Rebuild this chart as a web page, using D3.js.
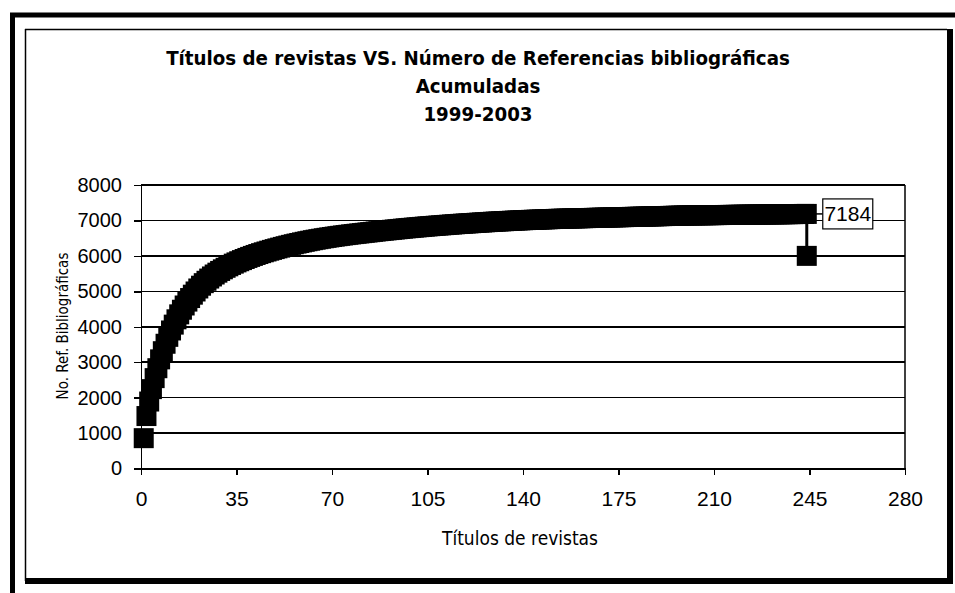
<html>
<head>
<meta charset="utf-8">
<script src="https://cdn.jsdelivr.net/npm/d3@7/dist/d3.min.js"></script>
<style type="text/css">
body {
    margin: 0;
    background: #fff;
}
svg {
    font-family: "DejaVu Sans Condensed", "DejaVu Sans", sans-serif;
}
.frame line {
    stroke: #000;
}
.axis path, .axis line {
    stroke: #000;
    stroke-width: 1.5px;
    shape-rendering: crispEdges;
}
.axis text {
    fill: #000;
}
.y.axis text {
    font-family: "Liberation Sans", Arial, sans-serif;
    font-size: 20px;
}
.x.axis text {
    font-size: 21px;
}
.grid line {
    stroke: #000;
    stroke-width: 1.5px;
    shape-rendering: crispEdges;
}
.title {
    font-weight: bold;
    font-size: 20.3px;
}
.marker {
    fill: #000;
}
.label-box {
    fill: #fff;
    stroke: #000;
    stroke-width: 1.2px;
}
</style>
</head>
<body>
<svg id="chart" width="955" height="593"></svg>
<script>
// titulo del grafico, una linea por elemento
var titleLines = [
    "Títulos de revistas VS. Número de Referencias bibliográficas",
    "Acumuladas",
    "1999-2003"
];
var xLabel = "Títulos de revistas";
var yLabel = "No. Ref. Bibliográficas";

var xTicks = [0, 35, 70, 105, 140, 175, 210, 245, 280];
var yTicks = [0, 1000, 2000, 3000, 4000, 5000, 6000, 7000, 8000];

// referencias acumuladas por titulo (titulo 1 .. 244)
var acumuladas = [
    856, 1480, 1890, 2240, 2550, 2830, 3080, 3310, 3520, 3715,
    3895, 4060, 4210, 4350, 4480, 4600, 4710, 4810, 4905, 4995,
    5080, 5158, 5230, 5297, 5360, 5419, 5474, 5526, 5575, 5621,
    5664, 5705, 5744, 5781, 5816, 5849, 5881, 5912, 5942, 5971,
    5999, 6026, 6052, 6077, 6101, 6124, 6147, 6169, 6191, 6212,
    6233, 6253, 6273, 6292, 6311, 6329, 6347, 6364, 6381, 6397,
    6413, 6428, 6443, 6457, 6471, 6484, 6497, 6509, 6521, 6533,
    6544, 6555, 6566, 6576, 6586, 6596, 6606, 6615, 6624, 6633,
    6642, 6651, 6660, 6669, 6678, 6687, 6696, 6704, 6712, 6720,
    6728, 6736, 6744, 6752, 6760, 6768, 6776, 6783, 6790, 6797,
    6804, 6811, 6818, 6825, 6832, 6838, 6844, 6850, 6856, 6862,
    6868, 6874, 6880, 6886, 6892, 6898, 6903, 6908, 6913, 6918,
    6923, 6928, 6933, 6938, 6943, 6948, 6953, 6958, 6963, 6967,
    6971, 6975, 6979, 6983, 6987, 6991, 6995, 6999, 7003, 7007,
    7010, 7013, 7016, 7019, 7022, 7025, 7028, 7031, 7034, 7037,
    7040, 7043, 7046, 7048, 7050, 7052, 7054, 7056, 7058, 7060,
    7062, 7064, 7066, 7068, 7070, 7072, 7074, 7076, 7078, 7080,
    7082, 7084, 7086, 7088, 7090, 7092, 7094, 7096, 7098, 7100,
    7102, 7104, 7106, 7108, 7110, 7112, 7114, 7116, 7118, 7120,
    7122, 7124, 7126, 7128, 7130, 7132, 7134, 7136, 7138, 7140,
    7141, 7142, 7143, 7144, 7145, 7146, 7147, 7148, 7149, 7150,
    7151, 7152, 7153, 7154, 7155, 7156, 7157, 7158, 7159, 7160,
    7161, 7162, 7163, 7164, 7165, 7166, 7167, 7168, 7169, 7170,
    7171, 7172, 7173, 7174, 7175, 7176, 7177, 7178, 7179, 7180,
    7181, 7182, 7183, 7184
];
// punto suelto debajo del final de la curva, unido a la etiqueta
var dropPoint = [244, 6000];

var svg = d3.select("#chart");

// marco: borde grueso exterior y caja con sombra
var frame = svg.append("g").attr("class", "frame");
frame.append("line").attr("x1", 10).attr("x2", 955).attr("y1", 15).attr("y2", 15)
    .style("stroke-width", 5);
frame.append("line").attr("x1", 12.5).attr("x2", 12.5).attr("y1", 13).attr("y2", 593)
    .style("stroke-width", 5);
frame.append("line").attr("x1", 25).attr("x2", 947).attr("y1", 29.5).attr("y2", 29.5)
    .style("stroke-width", 1.5);
frame.append("line").attr("x1", 25.5).attr("x2", 25.5).attr("y1", 29).attr("y2", 581)
    .style("stroke-width", 1.5);
frame.append("line").attr("x1", 950).attr("x2", 950).attr("y1", 29).attr("y2", 584)
    .style("stroke-width", 6);
frame.append("line").attr("x1", 25).attr("x2", 953).attr("y1", 581).attr("y2", 581)
    .style("stroke-width", 6);

var x = d3.scaleLinear().domain([0, 280]).range([141, 905]);
var y = d3.scaleLinear().domain([0, 8000]).range([468.5, 185]);

// titulo
svg.selectAll("text.title")
    .data(titleLines)
  .enter().append("text")
    .attr("class", "title")
    .attr("x", 478)
    .attr("y", function(d, i) { return 65 + i * 28; })
    .attr("text-anchor", "middle")
    .text(function(d) { return d; });

// lineas de division
svg.append("g").attr("class", "grid")
    .selectAll("line")
    .data(yTicks)
  .enter().append("line")
    .attr("x1", x(0)).attr("x2", x(280))
    .attr("y1", function(d) { return y(d); })
    .attr("y2", function(d) { return y(d); });
svg.append("line")
    .attr("x1", x(280)).attr("x2", x(280))
    .attr("y1", y(8000)).attr("y2", y(0))
    .style("stroke", "#000").style("stroke-width", 1.5);

svg.append("g")
    .attr("class", "y axis")
    .attr("transform", "translate(" + x(0) + ",0)")
    .call(d3.axisLeft(y).tickValues(yTicks).tickFormat(d3.format("d"))
        .tickSize(7).tickPadding(12).tickSizeOuter(0));

svg.append("g")
    .attr("class", "x axis")
    .attr("transform", "translate(0," + y(0) + ")")
    .call(d3.axisBottom(x).tickValues(xTicks).tickFormat(d3.format("d"))
        .tickSize(6).tickPadding(17).tickSizeOuter(0));

// titulos de ejes
svg.append("text")
    .attr("x", 520).attr("y", 545)
    .attr("text-anchor", "middle")
    .style("font-size", "19px")
    .text(xLabel);
svg.append("text")
    .attr("transform", "translate(68,326) rotate(-90)")
    .attr("text-anchor", "middle")
    .style("font-size", "15px")
    .text(yLabel);

// serie: marcadores cuadrados negros
var size = 20;
var pts = acumuladas.map(function(v, i) { return [i + 1, v]; });
var last = pts[pts.length - 1];

svg.append("line")
    .attr("x1", x(last[0])).attr("x2", x(dropPoint[0]))
    .attr("y1", y(last[1])).attr("y2", y(dropPoint[1]))
    .style("stroke", "#000").style("stroke-width", 3);

svg.append("g")
    .selectAll("rect")
    .data(pts.concat([dropPoint]))
  .enter().append("rect")
    .attr("class", "marker")
    .attr("x", function(d) { return x(d[0]) - size / 2; })
    .attr("y", function(d) { return y(d[1]) - size / 2; })
    .attr("width", size)
    .attr("height", size);

// etiqueta del ultimo valor
var lab = svg.append("g")
    .attr("transform", "translate(" + (x(last[0]) + 16) + "," + y(last[1]) + ")");
lab.append("line").attr("x1", -8).attr("x2", 0).attr("y1", 0).attr("y2", 0)
    .style("stroke", "#000").style("stroke-width", 1.5);
lab.append("rect")
    .attr("class", "label-box")
    .attr("x", 0).attr("y", -15).attr("width", 50).attr("height", 30);
lab.append("text")
    .attr("x", 25).attr("y", 7)
    .attr("text-anchor", "middle")
    .style("font-family", "'Liberation Sans', Arial, sans-serif")
    .style("font-size", "21px")
    .text(last[1]);
</script>
</body>
</html>
